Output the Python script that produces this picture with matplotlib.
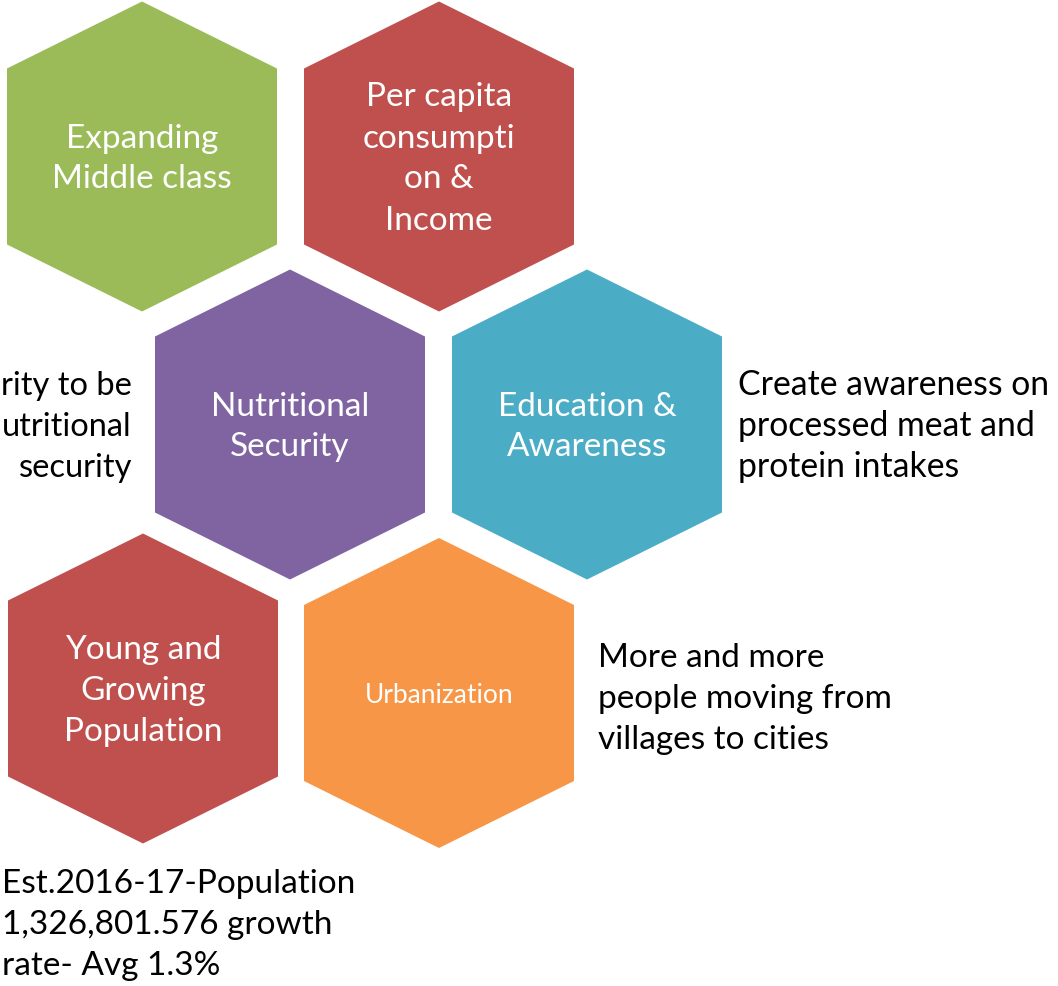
import matplotlib.pyplot as plt
from matplotlib.patches import Polygon

plt.rcParams['font.family'] = ['Lato', 'DejaVu Sans']

# hexagon labels and fills
hex_labels = ["Expanding\nMiddle class",
              "Per capita\nconsumpti\non &\nIncome",
              "Nutritional\nSecurity",
              "Education &\nAwareness",
              "Young and\nGrowing\nPopulation",
              "Urbanization"]
hex_colors = ["#9BBB59", "#C0504D", "#8064A2", "#4BACC6", "#C0504D", "#F79646"]

# side notes
note_texts = ["rity to be\nutritional\nsecurity",
              "Create awareness on\nprocessed meat and\nprotein intakes",
              "More and more\npeople moving from\nvillages to cities",
              "Est.2016-17-Population\n1,326,801.576 growth\nrate- Avg 1.3%"]

# layout (pixels, y down)
hex_cx = [142, 439, 290, 587, 143, 439]
hex_cy = [157.5, 157.5, 425.5, 425.5, 689.5, 694]
hex_fs = [24, 24, 24, 24, 24, 19]
note_x = [132, 738, 598, 2]
note_y = [395, 395, 667, 893]
note_ha = ["right", "left", "left", "left"]
note_fs = [23.5, 24.3, 24, 24]

HW, SH, TIP = 135, 88, 155
LINE = 41

fig = plt.figure(figsize=(10.58, 9.87), dpi=100)
ax = fig.add_axes([0, 0, 1, 1])
ax.set_xlim(0, 1058)
ax.set_ylim(987, 0)
ax.axis("off")

for lab, col, cx, cy, fs in zip(hex_labels, hex_colors, hex_cx, hex_cy, hex_fs):
    pts = [(cx, cy - TIP), (cx + HW, cy - SH), (cx + HW, cy + SH),
           (cx, cy + TIP), (cx - HW, cy + SH), (cx - HW, cy - SH)]
    ax.add_patch(Polygon(pts, closed=True, facecolor=col, edgecolor="none"))
    lines = lab.split("\n")
    off = 10.5 if fs > 20 else 9
    y0 = cy - (len(lines) - 1) / 2 * LINE + off
    for i, ln in enumerate(lines):
        ax.text(cx, y0 + i * LINE, ln, color="white", fontsize=fs,
                ha="center", va="baseline")

for txt, x, y, ha, fs in zip(note_texts, note_x, note_y, note_ha, note_fs):
    for i, ln in enumerate(txt.split("\n")):
        ax.text(x, y + i * LINE, ln, color="black", fontsize=fs,
                ha=ha, va="baseline")

plt.savefig("out.png", dpi=100)
